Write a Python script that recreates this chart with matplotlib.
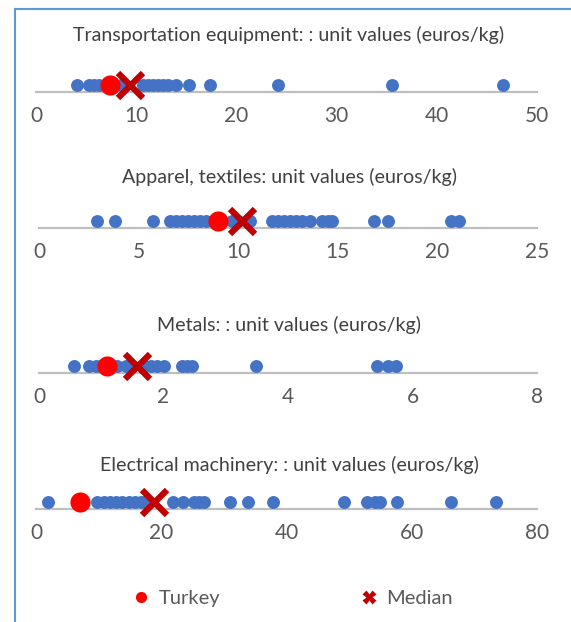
import matplotlib
matplotlib.use("Agg")
import matplotlib.pyplot as plt
from matplotlib.lines import Line2D

plt.rcParams['font.family'] = ['Lato', 'DejaVu Sans']

titles = [
    "Transportation equipment: : unit values (euros/kg)",
    "Apparel, textiles: unit values (euros/kg)",
    "Metals: : unit values (euros/kg)",
    "Electrical machinery: : unit values (euros/kg)",
]

transport = [4.1, 5.3, 5.8, 6.3, 8.5, 10.7, 11.2, 11.7, 12.2, 12.7, 13.2,
             14.0, 15.3, 17.4, 24.2, 35.5, 46.6]
apparel = [2.9, 3.8, 5.7, 6.6, 6.9, 7.2, 7.5, 7.8, 8.1, 8.4, 9.7, 10.0, 10.6,
           11.7, 12.0, 12.3, 12.6, 12.9, 13.2, 13.6, 14.2, 14.5, 14.7, 16.8,
           17.5, 20.7, 21.1]
metals = [0.56, 0.80, 0.92, 1.0, 1.25, 1.4, 1.5, 1.7, 1.8, 1.9, 2.0, 2.30,
          2.38, 2.46, 3.48, 5.43, 5.6, 5.73]
electrical = [1.9, 9.8, 10.8, 11.8, 12.8, 13.8, 14.8, 15.8, 16.8, 17.3, 21.8,
              23.5, 25.3, 26.0, 26.8, 30.9, 33.9, 37.8, 49.2, 52.9, 54.2, 55.0,
              57.7, 66.2, 73.4]

turkey = [7.4, 9.0, 1.09, 7.07]
median = [9.4, 10.2, 1.58, 18.9]

xmax = [50, 25, 8, 80]
xticks = [[0, 10, 20, 30, 40, 50], [0, 5, 10, 15, 20, 25], [0, 2, 4, 6, 8],
          [0, 20, 40, 60, 80]]
series = [transport, apparel, metals, electrical]

W, H = 571, 622
fig = plt.figure(figsize=(W / 100, H / 100), dpi=100)

blue = '#4472C4'
red = '#FF0000'
dark_red = '#C00000'
grey_txt = '#595959'

line_y = [92, 228, 373, 509]
title_y = [35, 177, 325, 465]
lefts = [36, 39, 39, 36]

for k in range(4):
    ax_h = 30
    ax = fig.add_axes([lefts[k] / W, 1 - line_y[k] / H, (537 - lefts[k]) / W, ax_h / H])
    ax.set_xlim(0, xmax[k])
    ax.set_ylim(-0.3, 1)
    y = [0] * len(series[k])
    ax.plot(series[k], y, 'o', color=blue, ms=9.3, mec='none', zorder=3, clip_on=False)
    ax.plot([turkey[k]], [0], 'o', color=red, ms=14.5, mec='none', zorder=4, clip_on=False)
    ax.plot([median[k]], [0], 'x', color=dark_red, ms=18, mew=4.5, zorder=5, clip_on=False)
    for s in ['top', 'left', 'right']:
        ax.spines[s].set_visible(False)
    ax.spines['bottom'].set_color('#BFBFBF')
    ax.spines['bottom'].set_linewidth(1.6)
    ax.set_yticks([])
    ax.set_xticks(xticks[k])
    ax.tick_params(axis='x', length=0, pad=10, labelsize=15, labelcolor=grey_txt)
    ax.patch.set_visible(False)
    fig.text(289 / W, 1 - title_y[k] / H, titles[k], ha='center', va='center',
             fontsize=14.1, color='#404040')

handles = [
    Line2D([], [], marker='o', color=red, ls='none', ms=8, mec='none'),
    Line2D([], [], marker='X', color=dark_red, ls='none', ms=10, mec='none'),
]
fig.legend(handles, ['Turkey', 'Median'], loc='center', bbox_to_anchor=(292 / W, 1 - 598 / H),
           ncol=2, frameon=False, fontsize=14.5, labelcolor=grey_txt,
           handletextpad=0.35, columnspacing=6.9, handlelength=1.0)

frame_c = '#5B9BD5'
fig.add_artist(Line2D([15 / W, 15 / W], [0, 1 - 9 / H], color=frame_c, lw=1.5))
fig.add_artist(Line2D([15 / W, 1.02], [1 - 9 / H, 1 - 9 / H], color=frame_c, lw=1.5))

fig.savefig('out.png', dpi=100)
